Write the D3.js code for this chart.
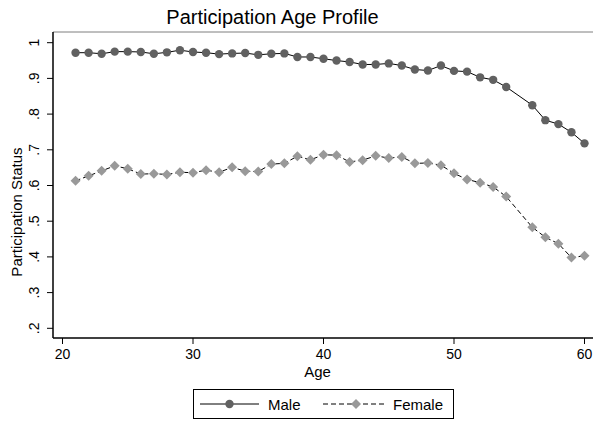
<!DOCTYPE html>
<html>
<head>
<meta charset="utf-8">
<script src="https://cdn.jsdelivr.net/npm/d3@7"></script>
<style>
  body { margin: 0; background: #fff; }
  svg { font-family: "Liberation Sans", Arial, sans-serif; }
</style>
</head>
<body>
<svg id="chart"></svg>
<script>
// ages (55 is missing in the source)
const ages = [21, 22, 23, 24, 25, 26, 27, 28, 29, 30, 31, 32, 33, 34, 35, 36, 37, 38, 39, 40,
              41, 42, 43, 44, 45, 46, 47, 48, 49, 50, 51, 52, 53, 54, 56, 57, 58, 59, 60];
const male = [.972, .972, .969, .975, .975, .974, .969, .973, .979, .974,
              .972, .968, .970, .971, .966, .969, .970, .960, .960, .955,
              .950, .946, .939, .939, .942, .936, .925, .922, .936, .921,
              .919, .903, .896, .876, .825, .783, .772, .749, .718];
const female = [.613, .627, .641, .655, .647, .632, .633, .631, .637, .636,
                .643, .637, .651, .640, .639, .660, .662, .682, .672, .686,
                .685, .666, .671, .683, .677, .680, .662, .663, .657, .634,
                .617, .608, .596, .569, .483, .455, .437, .398, .403];
const xTicks = [20, 30, 40, 50, 60];
const yTicks = [.2, .3, .4, .5, .6, .7, .8, .9, 1];
const yTickLabels = [".2", ".3", ".4", ".5", ".6", ".7", ".8", ".9", "1"];

const W = 593, H = 424;
let svg = d3.select("#chart").attr("width", W).attr("height", H);

const plotLeft = 53, plotTop = 32, plotBottom = 338, plotRight = 593;

let x = d3.scaleLinear().domain([20, 60]).range([62.5, 584.5]);
let y = d3.scaleLinear().domain([0.2, 1]).range([328.3, 42.7]);

// title
svg.append("text")
    .attr("x", 272.5).attr("y", 24)
    .attr("text-anchor", "middle")
    .style("font-size", "20px")
    .text("Participation Age Profile");

// top border of plot region
svg.append("line")
    .attr("x1", plotLeft).attr("x2", plotRight)
    .attr("y1", plotTop).attr("y2", plotTop)
    .style("stroke", "#7f7f7f").style("stroke-width", 1);

// x axis
let xAxis = svg.append("g").attr("transform", `translate(0,${plotBottom})`);
xAxis.append("line")
    .attr("x1", plotLeft).attr("x2", plotRight)
    .attr("y1", 0).attr("y2", 0)
    .style("stroke", "#000").style("stroke-width", 1.5);
xTicks.forEach(t => {
    xAxis.append("line")
        .attr("x1", x(t)).attr("x2", x(t))
        .attr("y1", 0).attr("y2", 6)
        .style("stroke", "#000").style("stroke-width", 1);
    xAxis.append("text")
        .attr("x", x(t)).attr("y", 21)
        .attr("text-anchor", "middle")
        .style("font-size", "14px")
        .text(t);
});
svg.append("text")
    .attr("x", 317.5).attr("y", 377)
    .attr("text-anchor", "middle")
    .style("font-size", "15px")
    .text("Age");

// y axis
let yAxis = svg.append("g").attr("transform", `translate(${plotLeft},0)`);
yAxis.append("line")
    .attr("x1", 0).attr("x2", 0)
    .attr("y1", plotTop).attr("y2", plotBottom)
    .style("stroke", "#000").style("stroke-width", 1.5);
yTicks.forEach((t, i) => {
    yAxis.append("line")
        .attr("x1", -6).attr("x2", 0)
        .attr("y1", y(t)).attr("y2", y(t))
        .style("stroke", "#000").style("stroke-width", 1);
    yAxis.append("text")
        .attr("transform", `translate(-14.5,${y(t)}) rotate(-90)`)
        .attr("text-anchor", "middle")
        .style("font-size", "14px")
        .text(yTickLabels[i]);
});
svg.append("text")
    .attr("transform", `translate(22,212) rotate(-90)`)
    .attr("text-anchor", "middle")
    .style("font-size", "15px")
    .text("Participation Status");

// series
const maleData = ages.map((a, i) => ({ age: a, v: male[i] }));
const femaleData = ages.map((a, i) => ({ age: a, v: female[i] }));
const line = d3.line().x(d => x(d.age)).y(d => y(d.v));

svg.append("path")
    .attr("d", line(femaleData))
    .style("fill", "none").style("stroke", "#000")
    .style("stroke-width", 1).style("stroke-dasharray", "5,3");

const diamond = d3.symbol().type(d3.symbolSquare).size(50);
svg.append("g").selectAll("path")
    .data(femaleData).join("path")
    .attr("d", diamond)
    .attr("transform", d => `translate(${x(d.age)},${y(d.v)}) rotate(45)`)
    .style("fill", "#999999");

svg.append("path")
    .attr("d", line(maleData))
    .style("fill", "none").style("stroke", "#000")
    .style("stroke-width", 1);

svg.append("g").selectAll("circle")
    .data(maleData).join("circle")
    .attr("cx", d => x(d.age)).attr("cy", d => y(d.v))
    .attr("r", 4.2)
    .style("fill", "#616161");

// legend
let legend = svg.append("g");
legend.append("rect")
    .attr("x", 193.5).attr("y", 389.5)
    .attr("width", 260).attr("height", 29)
    .style("fill", "#fff").style("stroke", "#000").style("stroke-width", 1);
const ly = 404;
legend.append("line")
    .attr("x1", 200).attr("x2", 259).attr("y1", ly).attr("y2", ly)
    .style("stroke", "#000").style("stroke-width", 1);
legend.append("circle")
    .attr("cx", 229.5).attr("cy", ly).attr("r", 4.2)
    .style("fill", "#616161");
legend.append("text")
    .attr("x", 268).attr("y", ly + 5.5)
    .style("font-size", "15px")
    .text("Male");
legend.append("line")
    .attr("x1", 323).attr("x2", 387).attr("y1", ly).attr("y2", ly)
    .style("stroke", "#000").style("stroke-width", 1)
    .style("stroke-dasharray", "5,3");
legend.append("path")
    .attr("d", diamond)
    .attr("transform", `translate(356,${ly}) rotate(45)`)
    .style("fill", "#999999");
legend.append("text")
    .attr("x", 393).attr("y", ly + 5.5)
    .style("font-size", "15px")
    .text("Female");
</script>
</body>
</html>
